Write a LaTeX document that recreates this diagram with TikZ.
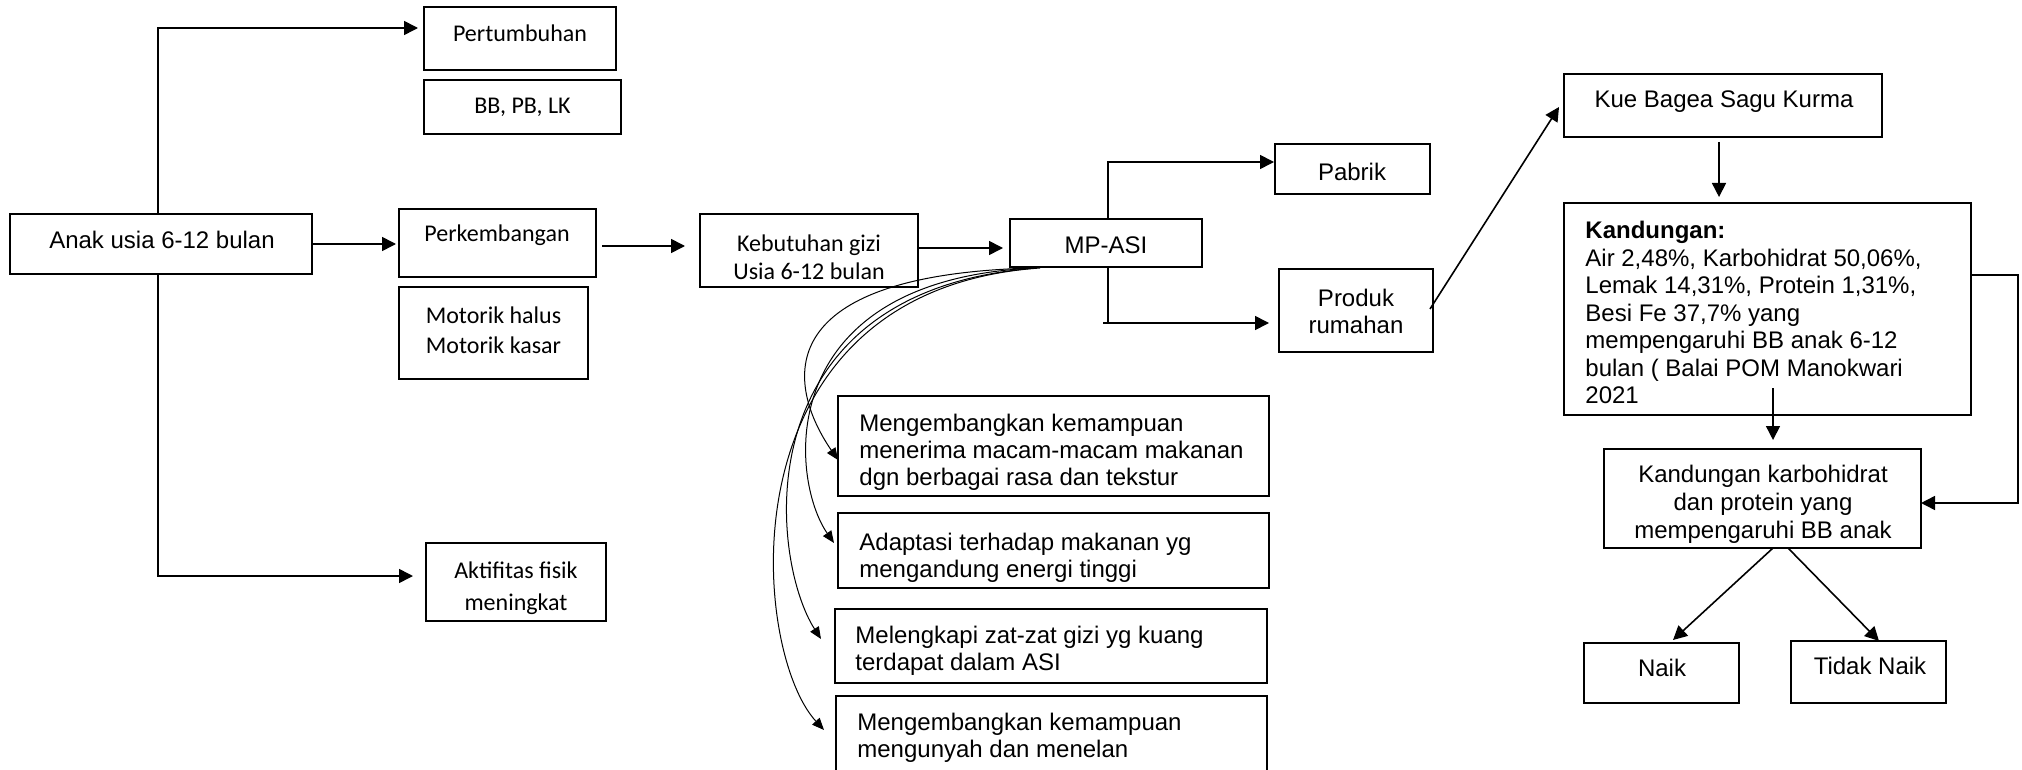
\documentclass[tikz,border=0pt]{standalone}
\usepackage{fontspec}
\setmainfont{Liberation Sans}
\newfontfamily\calfont{Carlito}
\usetikzlibrary{arrows.meta,calc}
\tikzset{
  box/.style={draw, line width=0.8pt, inner sep=0pt, outer sep=0pt},
  ar/.style={font=\fontsize{12}{13.8}\selectfont, inner sep=0pt, align=center},
  arl/.style={font=\fontsize{12}{13.5}\selectfont, inner sep=0pt, align=left, anchor=north west},
  cb/.style={font=\calfont\fontsize{12}{15}\selectfont, inner sep=0pt, align=center},
  arr/.style={line width=0.8pt, -{Triangle[length=7pt,width=7pt]}},
  carr/.style={line width=0.5pt, -{Triangle[length=6pt,width=5pt]}}
}
\newcommand\bx[5]{\node[box,minimum width=#4*0.5pt,minimum height=#5*0.5pt] (#1) at (#2,#3) {};}
\begin{document}
\begin{tikzpicture}[x=0.5pt,y=-0.5pt]
\clip (0,0) rectangle (2022,770);
\fill[white] (0,0) rectangle (2022,770);
% boxes
\bx{pert}{520}{38.5}{192}{63}
\bx{bb}{522.5}{107}{197}{54}
\bx{anak}{161}{244}{302}{60}
\bx{perk}{497.5}{243}{197}{68}
\bx{mot}{493.5}{333}{189}{92}
\bx{akt}{516}{582}{180}{78}
\bx{keb}{809}{250.5}{218}{73}
\bx{mp}{1106}{243}{192}{48}
\bx{pab}{1352.5}{169}{155}{50}
\bx{prod}{1356}{310.5}{154}{83}
\bx{kue}{1723}{105.5}{318}{63}
\bx{kand}{1767.5}{309}{407}{212}
\bx{karbo}{1762.5}{498.5}{317}{99}
\bx{naik}{1661.5}{673}{155}{60}
\bx{tidak}{1868.5}{672}{155}{62}
\bx{m1}{1053.5}{446}{431}{100}
\bx{m2}{1053.5}{550.5}{431}{75}
\bx{m3}{1051}{646}{432}{74}
\bx{m4}{1051.5}{743}{431}{94}
% texts
\node[cb] (t-pert) at (520,33) {Pertumbuhan};
\node[cb] (t-bb) at (522.5,107) {BB, PB, LK};
\node[ar] (t-anak) at (162,240) {Anak usia 6-12 bulan};
\node[cb] (t-perk) at (497,235) {Perkembangan};
\node[cb] (t-mot) at (493.5,330) {Motorik halus\\Motorik kasar};
\node[cb, font=\calfont\fontsize{12}{16}\selectfont] (t-akt) at (516,588) {Aktifitas fisik\\meningkat};
\node[cb, font=\calfont\fontsize{12}{14}\selectfont] (t-keb) at (809,257) {Kebutuhan gizi\\Usia 6-12 bulan};
\node[ar] (t-mp) at (1106,245) {MP-ASI};
\node[ar] (t-pab) at (1352,172) {Pabrik};
\node[ar, font=\fontsize{12}{13.5}\selectfont] (t-prod) at (1356,311) {Produk\\rumahan};
\node[ar] (t-kue) at (1724,102) {Kue Bagea Sagu Kurma};
\node[arl, font=\fontsize{12}{13.75}\selectfont] (t-kand) at (1585,221) {\textbf{Kandungan:}\\Air 2,48\%, Karbohidrat 50,06\%,\\Lemak 14,31\%, Protein 1,31\%,\\Besi Fe 37,7\% yang\\mempengaruhi BB anak 6-12\\bulan ( Balai POM Manokwari\\2021};
\node[ar, font=\fontsize{12}{14}\selectfont] (t-karbo) at (1763,504) {Kandungan karbohidrat\\dan protein yang\\mempengaruhi BB anak};
\node[ar] (t-naik) at (1662,668) {Naik};
\node[ar] (t-tidak) at (1870,666) {Tidak Naik};
\node[arl] (t-m1) at (859,414) {Mengembangkan kemampuan\\menerima macam-macam makanan\\dgn berbagai rasa dan tekstur};
\node[arl] (t-m2) at (859,533) {Adaptasi terhadap makanan yg\\mengandung energi tinggi};
\node[arl] (t-m3) at (855,626) {Melengkapi zat-zat gizi yg kuang\\terdapat dalam ASI};
\node[arl] (t-m4) at (857,713) {Mengembangkan kemampuan\\mengunyah dan menelan};
% connectors left part
\draw[arr] ($(anak.north)+(-3,0)$) |- ($(pert.west)+(-6,-10.5)$);
\draw[arr] (anak.east) -- ($(anak.east -| perk.west)+(-3,0)$);
\draw[arr] ($(anak.south)+(-3,0)$) |- ($(akt.west)+(-13,-6)$);
\draw[arr] ($(perk.east)+(6,3)$) -- ($(keb.west)+(-15,-4.5)$);
\draw[arr] ($(keb.east)+(0,-2.5)$) -- ($(mp.west)+(-7,5)$);
% MP-ASI branches
\draw[arr] ($(mp.north)+(2,0)$) |- ($(pab.west)+(-1,-7)$);
\draw[line width=0.8pt] ($(mp.south)+(2,0)$) -- ($(mp.south)+(2,56)$);
\draw[arr] ($(mp.south)+(-3,56)$) -- ($(prod.west)+(-10,12.5)$);
\draw[arr] ($(prod.east)+(-3,-1.5)$) -- ($(kue.west)+(-5,1.5)$);
% curves to benefits
\draw[carr] ($(mp.south)+(-73,1)$) .. controls (760,275) and (790,390) .. ($(m1.west)+(0,14)$);
\draw[carr] ($(mp.south)+(-71,1)$) .. controls (770,280) and (790,480) .. ($(m2.west)+(-4,-7.5)$);
\draw[carr] ($(mp.south)+(-69,1)$) .. controls (740,290) and (770,560) .. ($(m3.west)+(-14,-7)$);
\draw[carr] ($(mp.south)+(-66,1)$) .. controls (720,290) and (750,650) .. ($(m4.north west)+(-12,34)$);
% right part
\coordinate (k1) at ($(kue.south)+(-4,5)$);
\draw[arr, shorten >=3pt] (k1) -- (k1 |- kand.north);
\coordinate (k2) at ($(kand.south)+(5.5,-27)$);
\draw[arr, shorten >=4.5pt] (k2) -- (k2 |- karbo.north);
\draw[arr] ($(kand.east)+(0,-34)$) -- ++(47,0) |- ($(karbo.east)+(0,4.5)$);
\draw[arr] ($(karbo.south)+(10.5,0)$) -- ($(naik.north)+(11.5,-3)$);
\draw[arr] ($(karbo.south)+(25.5,0)$) -- ($(tidak.north)+(10.5,0)$);
\end{tikzpicture}
\end{document}
